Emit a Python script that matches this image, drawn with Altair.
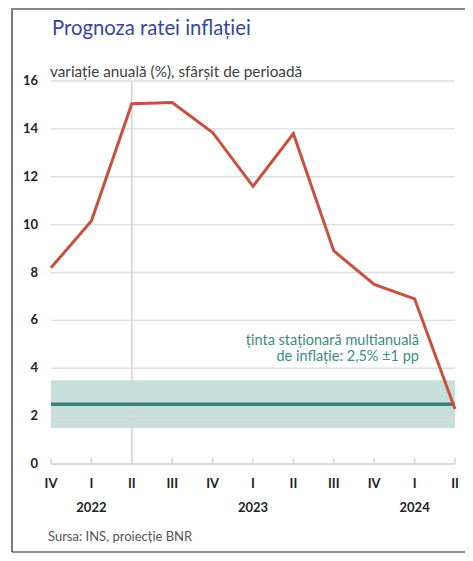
import altair as alt
import pandas as pd

quarters = ["IV", "I", "II", "III", "IV", "I", "II", "III", "IV", "I", "II"]
years = ["", "2022", "", "", "", "2023", "", "", "", "2024", ""]
inflation = [8.2, 10.15, 15.05, 15.1, 13.85, 11.6, 13.8, 8.9, 7.5, 6.9, 2.3]
y_ticks = [0, 2, 4, 6, 8, 10, 12, 14, 16]
target = 2.5
band_low, band_high = 1.5, 3.5
forecast_start = 2  # index of II 2022 (vertical separator)

title = "Prognoza ratei inflației"
subtitle = "variație anuală (%), sfârșit de perioadă"
source = "Sursa: INS, proiecție BNR"
note1 = "ținta staționară multianuală"
note2 = "de inflație: 2,5% ±1 pp"

FONT = "Lato"
W, H = 404, 383

df = pd.DataFrame({"i": list(range(len(quarters))), "q": quarters, "yr": years, "v": inflation})

xs = alt.Scale(domain=[0, 10], nice=False)
ys = alt.Scale(domain=[0, 16], nice=False)


def X(f):
    return alt.X(f, scale=xs, axis=None)


def Y(f):
    return alt.Y(f, scale=ys, axis=None)


base = alt.Chart(df)
gdf = pd.DataFrame({"g": y_ticks, "gl": [str(v) for v in y_ticks]})

band = alt.Chart(pd.DataFrame({"a": [0], "b": [10], "lo": [band_low], "hi": [band_high]})).mark_rect(
    color="#c7dfda").encode(x=X("a:Q"), x2="b:Q", y=Y("lo:Q"), y2="hi:Q")

grid = alt.Chart(gdf).mark_rule(color="#dedede", strokeWidth=1.3).encode(
    y=Y("g:Q"), x=alt.value(0), x2=alt.value(W))

ylabels = alt.Chart(gdf).mark_text(font=FONT, fontWeight="bold", fontSize=13, color="#222",
                                   align="right", baseline="middle").encode(
    y=Y("g:Q"), x=alt.value(-13), text="gl:N")

vline = alt.Chart(pd.DataFrame({"x": [forecast_start], "y0": [0], "y1": [16]})).mark_rule(
    color="#d6d6d6", strokeWidth=1.6).encode(x=X("x:Q"), y=Y("y0:Q"), y2="y1:Q")

axisline = alt.Chart(pd.DataFrame({"a": [0], "b": [10]})).mark_rule(color="#d6d6d6", strokeWidth=1.6).encode(
    x=X("a:Q"), x2="b:Q", y=alt.value(H))

ticks = base.mark_rule(color="#d6d6d6", strokeWidth=1.6).encode(
    x=X("i:Q"), y=alt.value(H), y2=alt.value(H - 6))

targetline = alt.Chart(pd.DataFrame({"a": [0], "b": [10], "t": [target]})).mark_rule(
    color="#3f7f7b", strokeWidth=3.5).encode(x=X("a:Q"), x2="b:Q", y=Y("t:Q"))

line = base.mark_line(color="#c8503f", strokeWidth=3).encode(x=X("i:Q"), y=Y("v:Q"))

qlab = base.mark_text(font=FONT, fontWeight="bold", fontSize=13, color="#222", baseline="middle").encode(
    x=X("i:Q"), y=alt.value(H + 20), text="q:N")
ylab = base.mark_text(font=FONT, fontWeight="bold", fontSize=13, color="#222", baseline="middle").encode(
    x=X("i:Q"), y=alt.value(H + 44), text="yr:N")


def label(txt, x, y, **kw):
    return alt.Chart(pd.DataFrame({"t": [txt]})).mark_text(font=FONT, **kw).encode(
        x=alt.value(x), y=alt.value(y), text="t:N")


ttl = label(title, 1, -46, fontSize=20.3, color="#34489a", align="left", baseline="alphabetic")
sub = label(subtitle, -1, -9, fontSize=15.3, color="#404040", align="left", baseline="middle")
src = label(source, -3, H + 73, fontSize=13, color="#555555", align="left", baseline="middle")
nt1 = label(note1, 368, 260, fontSize=14.5, color="#3e8a86", align="right", baseline="middle")
nt2 = label(note2, 368, 276, fontSize=14.5, color="#3e8a86", align="right", baseline="middle")


def rule(x, y, x2=None, y2=None, color="#222", sw=1.2):
    enc = dict(x=alt.value(x), y=alt.value(y))
    if x2 is not None:
        enc["x2"] = alt.value(x2)
    if y2 is not None:
        enc["y2"] = alt.value(y2)
    return alt.Chart(pd.DataFrame({"a": [0]})).mark_rule(color=color, strokeWidth=sw).encode(**enc)


frame_left = rule(-39, -73, y2=471)
frame_bottom = rule(-39, 471, x2=W + 10)
frame_top = rule(-39, -72, x2=W + 10, color="#888888", sw=2)

chart = alt.layer(
    band, grid, ylabels, vline, axisline, ticks, targetline, line, qlab, ylab, ttl, sub, src, nt1, nt2,
    frame_left, frame_bottom, frame_top
).properties(
    width=W, height=H,
    autosize=alt.AutoSizeParams(type="none"),
    padding={"left": 43, "top": 73, "right": 10, "bottom": 89},
).configure_view(stroke=None)

chart.save("out.html", embed_options={"renderer": "svg", "actions": False})
